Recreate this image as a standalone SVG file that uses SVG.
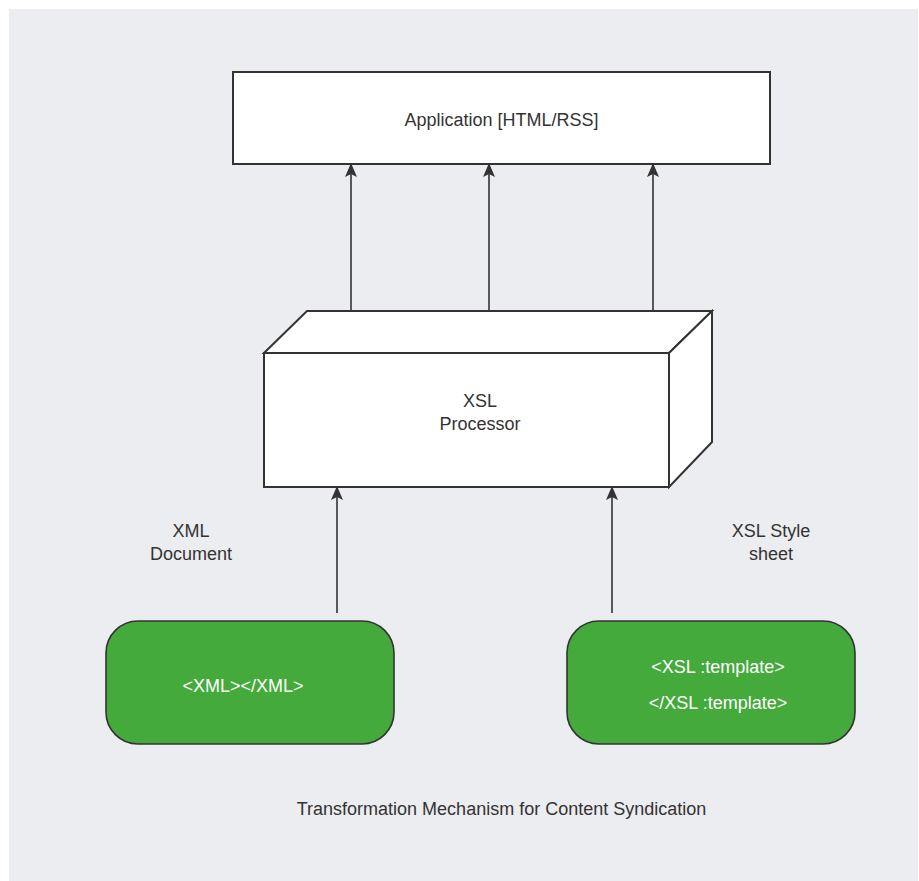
<svg xmlns="http://www.w3.org/2000/svg" width="919" height="881" viewBox="0 0 919 881">
  <defs>
    <marker id="arrow" viewBox="0 0 14 12" refX="14" refY="6" markerWidth="14" markerHeight="12" markerUnits="userSpaceOnUse" orient="auto">
      <path d="M0,0 L14,6 L0,12 L3,6 z" fill="#333333"/>
    </marker>
    <style>
      .lbl { font-family: "Liberation Sans", Arial, sans-serif; font-size: 18px; fill: #333333; text-anchor: middle; }
      .wlbl { font-family: "Liberation Sans", Arial, sans-serif; font-size: 18px; fill: #ffffff; text-anchor: middle; }
      .box { fill: #ffffff; stroke: #333333; stroke-width: 2; }
      .green { fill: #44aa3b; stroke: #333333; stroke-width: 1.6; }
      .edge { stroke: #333333; stroke-width: 1.6; fill: none; marker-end: url(#arrow); }
    </style>
  </defs>

  <!-- backdrop panel -->
  <rect x="0" y="0" width="919" height="881" fill="#ffffff"/>
  <rect x="9" y="9" width="909" height="872" fill="#ecedf0"/>

  <!-- output application -->
  <g id="application">
    <rect class="box" x="233" y="72" width="537" height="92"/>
    <text class="lbl" x="501.5" y="126">Application [HTML/RSS]</text>
  </g>

  <!-- processor drawn as a 3D block -->
  <g id="xsl-processor">
    <polygon class="box" points="264,353 307,311 712,311 669,353"/>
    <polygon class="box" points="669,353 712,311 712,442 669,487"/>
    <rect class="box" x="264" y="353" width="405" height="134"/>
    <text class="lbl" x="480" y="407">XSL</text>
    <text class="lbl" x="480" y="430">Processor</text>
  </g>

  <!-- inputs -->
  <g id="xml-document">
    <rect class="green" x="106" y="621" width="288" height="123" rx="32" ry="32"/>
    <text class="wlbl" x="243" y="692">&lt;XML&gt;&lt;/XML&gt;</text>
    <text class="lbl" x="191" y="537">XML</text>
    <text class="lbl" x="191" y="560">Document</text>
  </g>

  <g id="xsl-stylesheet">
    <rect class="green" x="567" y="621" width="288" height="123" rx="32" ry="32"/>
    <text class="wlbl" x="718" y="673">&lt;XSL :template&gt;</text>
    <text class="wlbl" x="718" y="709">&lt;/XSL :template&gt;</text>
    <text class="lbl" x="771" y="537">XSL Style</text>
    <text class="lbl" x="771" y="560">sheet</text>
  </g>

  <!-- connectors -->
  <g id="connectors">
    <line class="edge" x1="351" y1="311" x2="351" y2="163"/>
    <line class="edge" x1="489" y1="311" x2="489" y2="163"/>
    <line class="edge" x1="653" y1="311" x2="653" y2="163"/>
    <line class="edge" x1="337" y1="613" x2="337" y2="486"/>
    <line class="edge" x1="612" y1="613" x2="612" y2="486"/>
  </g>

  <text id="caption" class="lbl" x="501.5" y="815">Transformation Mechanism for Content Syndication</text>
</svg>
